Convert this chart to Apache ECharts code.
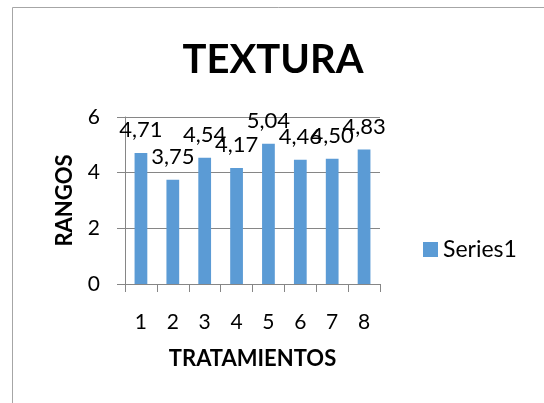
<!DOCTYPE html>
<html>
<head>
<meta charset="utf-8">
<script src="https://cdn.jsdelivr.net/npm/echarts@6/dist/echarts.min.js"></script>
<style>
  html, body { margin: 0; padding: 0; background: #fff; }
  #chart { width: 544px; height: 403px; }
</style>
</head>
<body>
<div id="chart"></div>
<script>
// datos
var tratamientos = ['1', '2', '3', '4', '5', '6', '7', '8'];
var rangos = [4.71, 3.75, 4.54, 4.17, 5.04, 4.46, 4.50, 4.83];
var yTicks = [0, 2, 4, 6];

var fuente = 'Lato';
var chart = echarts.init(document.getElementById('chart'));

var option = {
  backgroundColor: '#fff',
  animation: false,
  title: {
    text: 'TEXTURA',
    left: 268,
    textAlign: 'center',
    top: 35,
    textStyle: { fontFamily: fuente, fontSize: 40, fontWeight: 'bold', color: '#000' }
  },
  legend: {
    left: 423,
    top: 238,
    padding: 0,
    itemWidth: 15,
    itemHeight: 15,
    itemGap: 6,
    icon: 'rect',
    data: ['Series1'],
    textStyle: { fontFamily: fuente, fontSize: 23, color: '#000', padding: [0, 0, 0, 0] }
  },
  grid: { left: 125, right: 164, top: 117, bottom: 119, containLabel: false },
  xAxis: {
    type: 'category',
    data: tratamientos,
    name: 'TRATAMIENTOS',
    nameLocation: 'middle',
    nameGap: 64,
    nameTextStyle: { fontFamily: fuente, fontSize: 22, fontWeight: 'bold', color: '#000' },
    axisLine: { lineStyle: { color: '#868686', width: 1 } },
    axisTick: { show: true, length: 8, alignWithLabel: false, lineStyle: { color: '#868686' } },
    axisLabel: { fontFamily: fuente, fontSize: 21, color: '#000', margin: 28 }
  },
  yAxis: {
    type: 'value',
    min: yTicks[0],
    max: yTicks[yTicks.length - 1],
    interval: 2,
    name: 'RANGOS',
    nameLocation: 'middle',
    nameGap: 49,
    nameRotate: 90,
    nameTextStyle: { fontFamily: fuente, fontSize: 22, fontWeight: 'bold', color: '#000' },
    axisLine: { show: true, lineStyle: { color: '#868686', width: 1 } },
    axisTick: { show: true, length: 8, inside: false, lineStyle: { color: '#868686' } },
    axisLabel: { fontFamily: fuente, fontSize: 21, color: '#000', margin: 25 },
    splitLine: { show: true, lineStyle: { color: '#868686', width: 1 } }
  },
  series: [{
    name: 'Series1',
    type: 'bar',
    data: rangos,
    barWidth: '40%',
    itemStyle: { color: '#5B9BD5' },
    label: {
      show: true,
      position: 'top',
      distance: 12,
      fontFamily: fuente,
      fontSize: 22,
      color: '#000',
      formatter: function (p) { return p.value.toFixed(2).replace('.', ','); }
    }
  }],
  graphic: [{
    type: 'rect',
    shape: { x: 12.5, y: 7.5, width: 600, height: 500 },
    style: { fill: 'none', stroke: '#a6a6a6', lineWidth: 1 },
    silent: true
  }]
};

chart.setOption(option);
</script>
</body>
</html>
